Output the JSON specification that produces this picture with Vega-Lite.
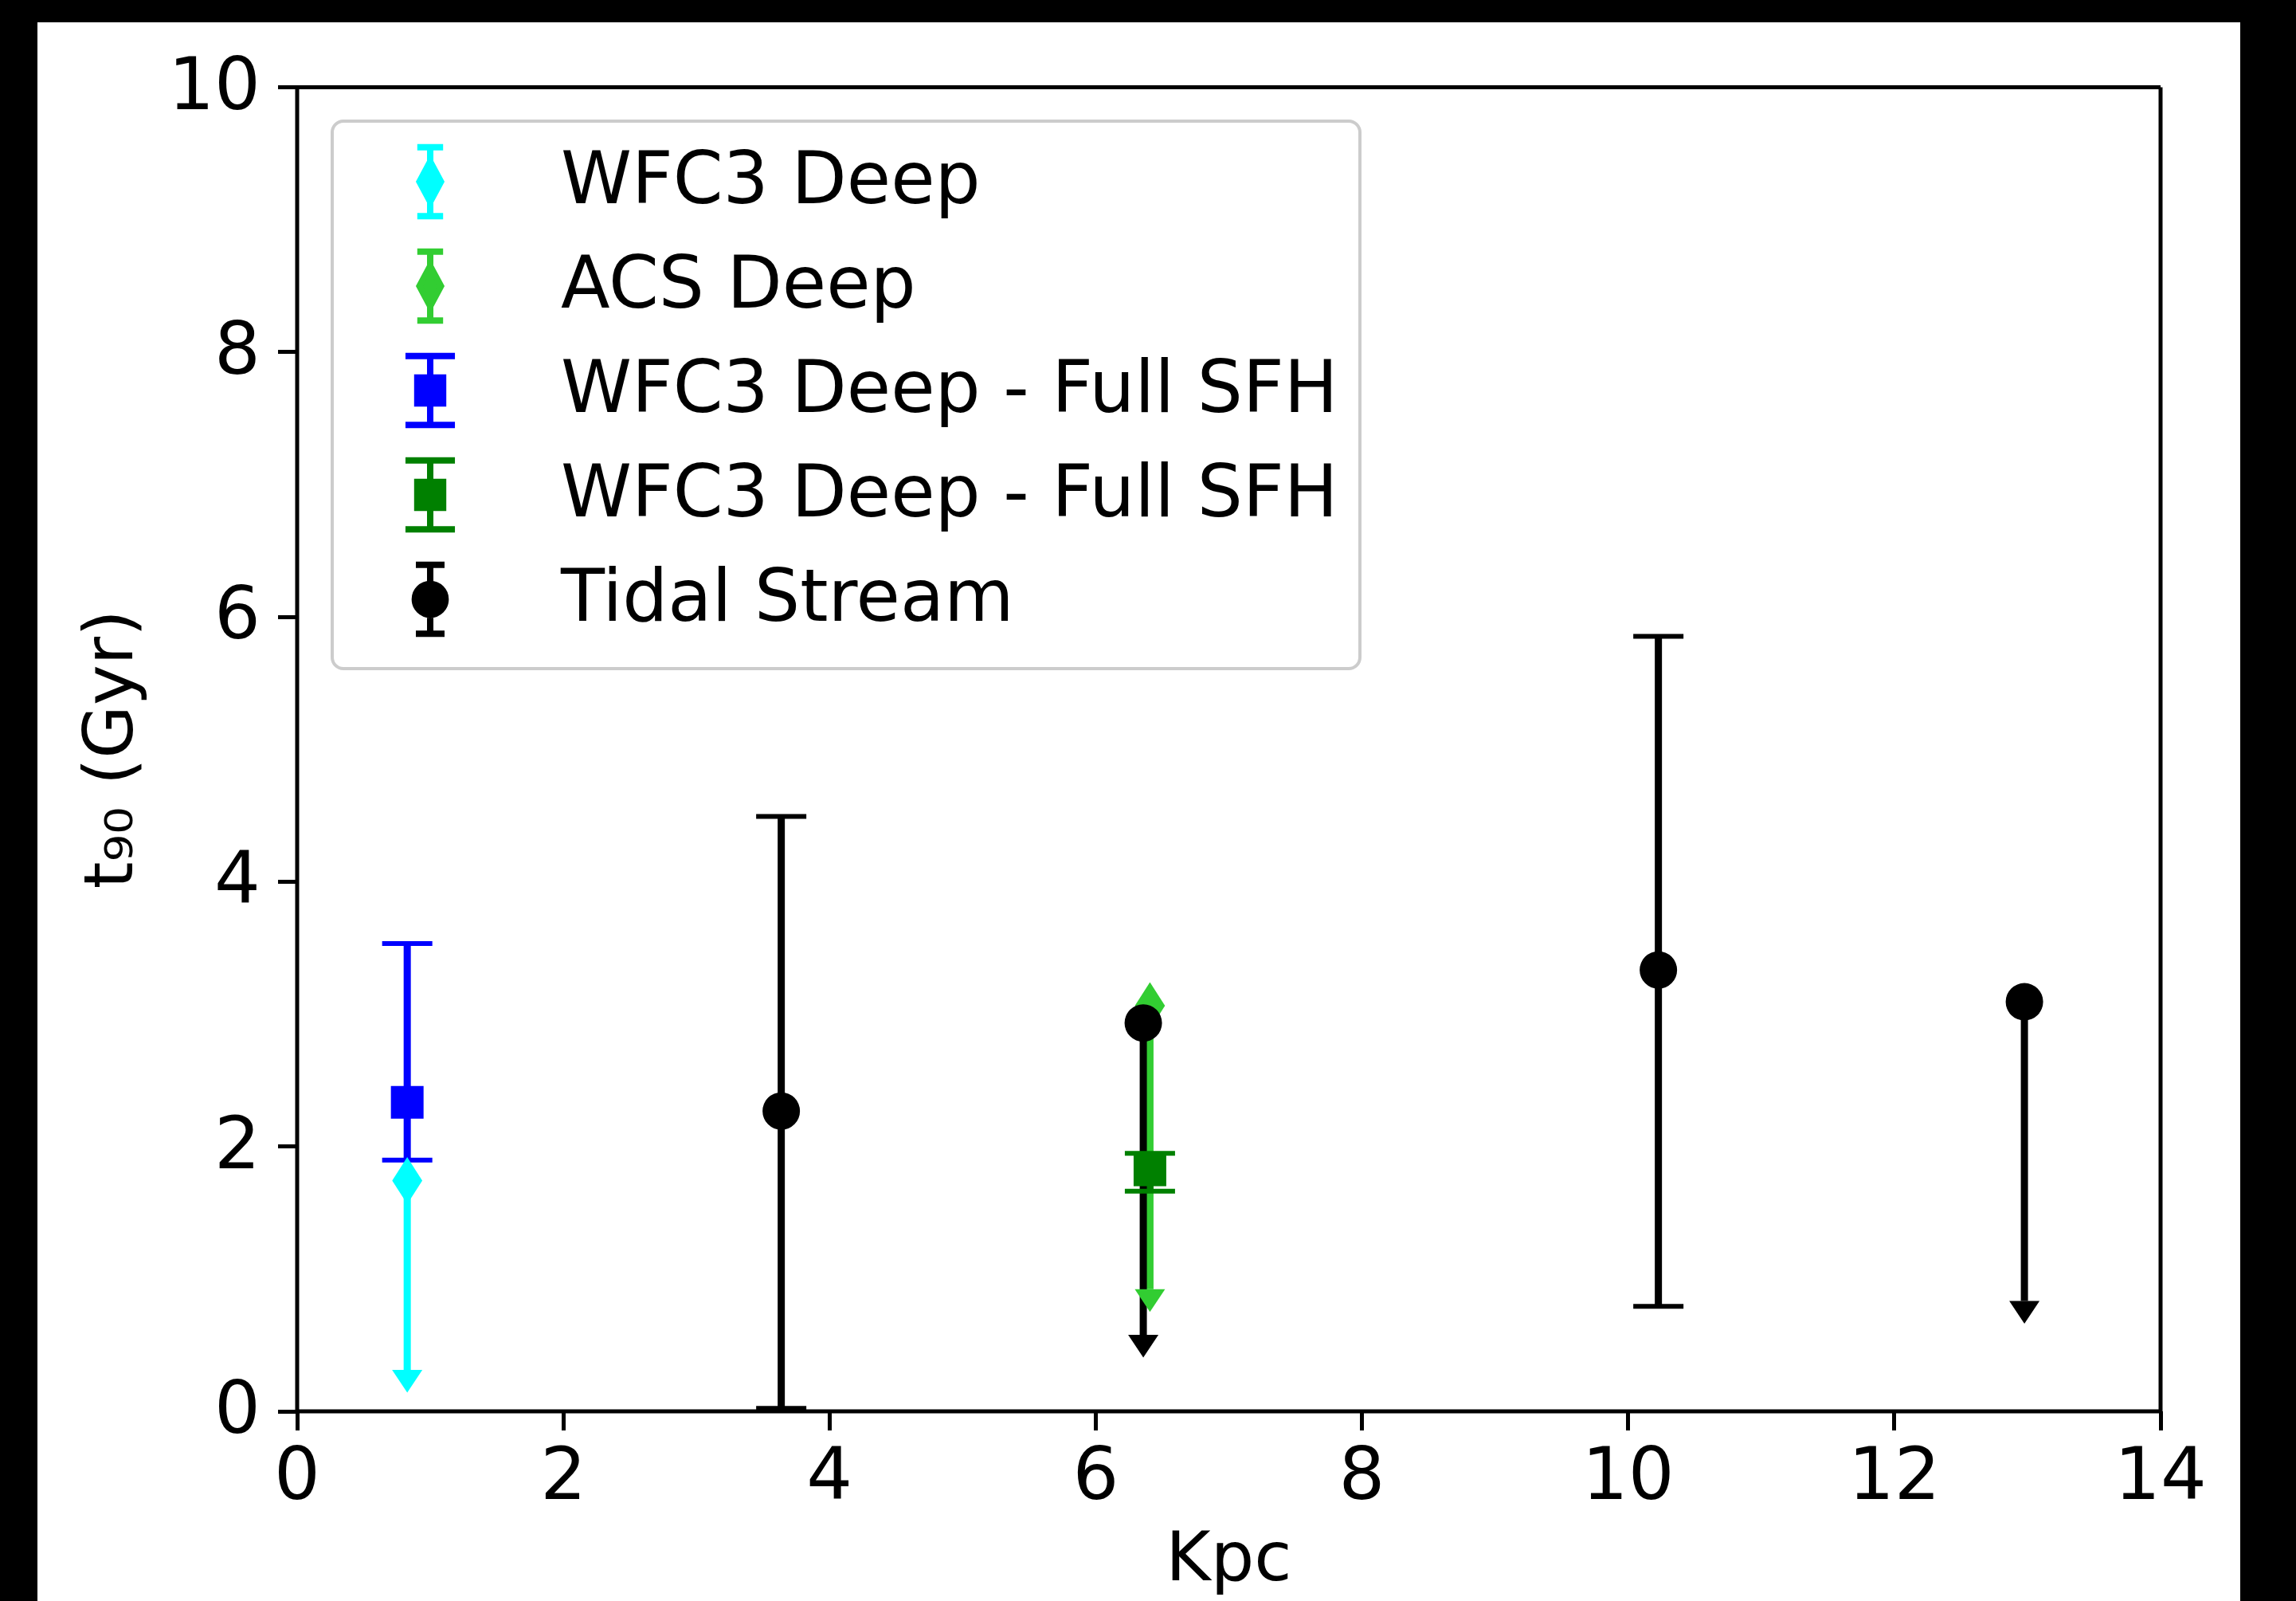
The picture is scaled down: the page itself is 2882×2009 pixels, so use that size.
{
  "$schema": "https://vega.github.io/schema/vega-lite/v6.json",
  "width": 2765,
  "height": 1981,
  "autosize": {"type": "none"},
  "padding": {"left": 47, "top": 28, "right": 70, "bottom": 0},
  "background": "black",
  "config": {
    "font": "DejaVu Sans",
    "view": {"fill": "white", "stroke": null},
    "axis": {
      "grid": false,
      "domainColor": "black",
      "tickColor": "black",
      "labelColor": "black",
      "titleColor": "black",
      "domainWidth": 5,
      "tickWidth": 5,
      "tickSize": 24,
      "labelFlush": false,
      "labelFont": "DejaVu Sans",
      "labelFontSize": 91,
      "titleFont": "DejaVu Sans",
      "titleFontSize": 86,
      "titleFontWeight": "normal"
    },
    "legend": {
      "padding": 27,
      "fillColor": "white",
      "strokeColor": "#cccccc",
      "strokeWidth": 4,
      "cornerRadius": 14,
      "labelFont": "DejaVu Sans",
      "labelFontSize": 90,
      "labelColor": "black",
      "labelLimit": 3000,
      "symbolSize": 8100,
      "symbolStrokeWidth": 8,
      "symbolOpacity": 1,
      "symbolOffset": 47,
      "labelOffset": 115,
      "rowPadding": 11
    }
  },
  "datasets": {
    "points": [
      {"series": "WFC3 Deep", "kpc": 0.83, "t90": 1.74, "lo": 0.31, "hi": null},
      {"series": "ACS Deep", "kpc": 6.41, "t90": 3.06, "lo": 0.92, "hi": null},
      {"series": "WFC3 Deep - Full SFH", "kpc": 0.83, "t90": 2.33, "lo": 1.895, "hi": 3.53},
      {"series": "WFC3 Deep - Full SFH ", "kpc": 6.41, "t90": 1.82, "lo": 1.66, "hi": 1.945},
      {"series": "Tidal Stream", "kpc": 3.64, "t90": 2.265, "lo": 0.02, "hi": 4.49},
      {"series": "Tidal Stream", "kpc": 6.36, "t90": 2.93, "lo": 0.575, "hi": null},
      {"series": "Tidal Stream", "kpc": 10.23, "t90": 3.33, "lo": 0.79, "hi": 5.85},
      {"series": "Tidal Stream", "kpc": 12.98, "t90": 3.09, "lo": 0.83, "hi": null}
    ]
  },
  "data": {"name": "points"},
  "layer": [
    {
      "layer": [
        {
          "mark": {"type": "rule", "strokeWidth": 9},
          "encoding": {
            "x": {
              "field": "kpc", "type": "quantitative",
              "scale": {"domain": [0, 14], "range": [325.5, 2664.5], "nice": false, "zero": false},
              "axis": {"orient": "bottom", "offset": -238.5, "values": [0, 2, 4, 6, 8, 10, 12, 14], "format": "d", "title": "Kpc", "labelPadding": 14, "titlePadding": 16}
            },
            "y": {
              "field": "lo", "type": "quantitative",
              "scale": {"domain": [0, 10], "range": [1742.5, 81], "nice": false, "zero": false},
              "axis": {"orient": "left", "offset": -325.5, "values": [0, 2, 4, 6, 8, 10], "format": "d", "title": "t₉₀ (Gyr)", "labelPadding": 22, "titlePadding": 27}
            },
            "y2": {"field": "t90"},
            "color": {
              "field": "series", "type": "nominal",
              "legend": {"orient": "none", "legendX": 370, "legendY": 124, "title": null},
              "scale": {"domain": ["WFC3 Deep", "ACS Deep", "WFC3 Deep - Full SFH", "WFC3 Deep - Full SFH ", "Tidal Stream"], "range": ["#00ffff", "#32cd32", "#0000ff", "#008000", "#000000"]}
            }
          }
        },
        {
          "transform": [{"filter": "datum.hi != null"}],
          "mark": {"type": "rule", "strokeWidth": 9},
          "encoding": {
            "x": {"field": "kpc", "type": "quantitative"},
            "y": {"field": "t90", "type": "quantitative"},
            "y2": {"field": "hi"},
            "color": {"field": "series", "type": "nominal"}
          }
        },
        {
          "transform": [{"filter": "datum.hi != null"}],
          "mark": {"type": "tick", "orient": "horizontal", "size": 63, "thickness": 6, "opacity": 1},
          "encoding": {
            "x": {"field": "kpc", "type": "quantitative"},
            "y": {"field": "hi", "type": "quantitative"},
            "color": {"field": "series", "type": "nominal"}
          }
        },
        {
          "transform": [{"filter": "datum.hi != null"}],
          "mark": {"type": "tick", "orient": "horizontal", "size": 63, "thickness": 6, "opacity": 1},
          "encoding": {
            "x": {"field": "kpc", "type": "quantitative"},
            "y": {"field": "lo", "type": "quantitative"},
            "color": {"field": "series", "type": "nominal"}
          }
        },
        {
          "transform": [{"filter": "datum.hi == null"}],
          "mark": {"type": "point", "shape": "M-1,0L1,0L0,1.5Z", "size": 1444, "filled": true, "opacity": 1, "strokeWidth": 0},
          "encoding": {
            "x": {"field": "kpc", "type": "quantitative"},
            "y": {"field": "lo", "type": "quantitative"},
            "color": {"field": "series", "type": "nominal"}
          }
        },
        {
          "transform": [{"filter": "datum.series == 'WFC3 Deep' || datum.series == 'ACS Deep'"}],
          "mark": {"type": "point", "shape": "M0,-1L0.64,0L0,1L-0.64,0Z", "size": 3481, "filled": true, "opacity": 1, "strokeWidth": 0},
          "encoding": {
            "x": {"field": "kpc", "type": "quantitative"},
            "y": {"field": "t90", "type": "quantitative"},
            "color": {"field": "series", "type": "nominal"}
          }
        },
        {
          "transform": [{"filter": "datum.series == 'WFC3 Deep - Full SFH' || datum.series == 'WFC3 Deep - Full SFH '"}],
          "mark": {"type": "point", "shape": "square", "size": 1681, "filled": true, "opacity": 1, "strokeWidth": 0},
          "encoding": {
            "x": {"field": "kpc", "type": "quantitative"},
            "y": {"field": "t90", "type": "quantitative"},
            "color": {"field": "series", "type": "nominal"}
          }
        },
        {
          "transform": [{"filter": "datum.series == 'Tidal Stream'"}],
          "mark": {"type": "point", "shape": "circle", "size": 2209, "filled": true, "opacity": 1, "strokeWidth": 0},
          "encoding": {
            "x": {"field": "kpc", "type": "quantitative"},
            "y": {"field": "t90", "type": "quantitative"},
            "color": {"field": "series", "type": "nominal"}
          }
        }
      ]
    },
    {
      "mark": {"type": "point", "filled": true, "opacity": 0},
      "encoding": {
        "x": {
          "field": "kpc", "type": "quantitative",
          "scale": {"domain": [0, 14], "range": [325.5, 2664.5], "nice": false, "zero": false},
          "axis": {"orient": "top", "offset": -81, "ticks": false, "labels": false, "title": null}
        },
        "y": {
          "field": "t90", "type": "quantitative",
          "scale": {"domain": [0, 10], "range": [1742.5, 81], "nice": false, "zero": false},
          "axis": {"orient": "right", "offset": -100.5, "ticks": false, "labels": false, "title": null}
        },
        "shape": {
          "field": "series", "type": "nominal",
          "legend": {"title": null, "orient": "none", "legendX": 370, "legendY": 124, "symbolOpacity": 1, "symbolSize": 8100, "symbolStrokeWidth": 8},
          "scale": {
            "domain": ["WFC3 Deep", "ACS Deep", "WFC3 Deep - Full SFH", "WFC3 Deep - Full SFH ", "Tidal Stream"],
            "range": [
              "M0,-0.96L0,0.96M-0.36,-0.96L0.36,-0.96M-0.36,0.96L0.36,0.96M0,-0.56L0.3,0L0,0.56L-0.3,0Z",
              "M0,-0.96L0,0.96M-0.36,-0.96L0.36,-0.96M-0.36,0.96L0.36,0.96M0,-0.56L0.3,0L0,0.56L-0.3,0Z",
              "M0,-0.96L0,0.96M-0.69,-0.96L0.69,-0.96M-0.69,0.96L0.69,0.96M-0.36,-0.36L0.36,-0.36L0.36,0.36L-0.36,0.36Z",
              "M0,-0.96L0,0.96M-0.69,-0.96L0.69,-0.96M-0.69,0.96L0.69,0.96M-0.36,-0.36L0.36,-0.36L0.36,0.36L-0.36,0.36Z",
              "M0,-0.96L0,0.96M-0.4,-0.96L0.4,-0.96M-0.4,0.96L0.4,0.96M-0.43,0A0.43,0.43 0 1,0 0.43,0A0.43,0.43 0 1,0 -0.43,0Z"
            ]
          }
        }
      }
    }
  ],
  "resolve": {"axis": {"x": "independent", "y": "independent"}}
}
